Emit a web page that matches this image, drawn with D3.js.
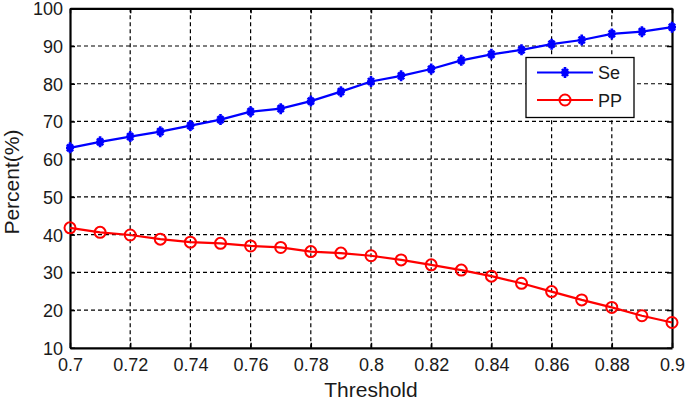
<!DOCTYPE html>
<html>
<head>
<meta charset="utf-8">
<script src="https://cdn.jsdelivr.net/npm/d3@7/dist/d3.min.js"></script>
<style>
  html, body { margin: 0; padding: 0; background: #fff; }
  svg { display: block; font-family: "Liberation Sans", Arial, sans-serif; }
</style>
</head>
<body>
<svg id="chart" width="685" height="401"></svg>
<script>
const thresholds = [0.70,0.71,0.72,0.73,0.74,0.75,0.76,0.77,0.78,0.79,0.80,0.81,0.82,0.83,0.84,0.85,0.86,0.87,0.88,0.89,0.90];
const seValues = [63.0,64.6,66.0,67.3,68.9,70.5,72.6,73.4,75.4,77.9,80.6,82.1,83.9,86.2,87.8,89.0,90.5,91.6,93.2,93.8,95.0];
const ppValues = [41.8,40.6,39.9,38.8,38.0,37.7,37.0,36.6,35.5,35.1,34.4,33.3,32.0,30.6,29.0,27.1,24.9,22.7,20.7,18.5,16.7];
const xTicks = [0.7,0.72,0.74,0.76,0.78,0.8,0.82,0.84,0.86,0.88,0.9];
const yTicks = [10,20,30,40,50,60,70,80,90,100];
const seriesNames = ["Se","PP"];
const seriesColors = ["#0000ff","#ff0000"];

const svg = d3.select("#chart");
const L = 70, R = 672, T = 8.3, B = 347.8;
const x = d3.scaleLinear().domain([0.7,0.9]).range([L,R]);
const y = d3.scaleLinear().domain([10,100]).range([B,T]);

// grid
const grid = svg.append("g");
grid.selectAll("line.gx").data(xTicks.slice(1,-1)).enter().append("line")
  .attr("x1", d=>x(d)).attr("x2", d=>x(d)).attr("y1", T).attr("y2", B)
  .attr("stroke","#000").attr("stroke-width",1.2).attr("stroke-dasharray","4,3");
grid.selectAll("line.gy").data(yTicks.slice(1,-1)).enter().append("line")
  .attr("y1", d=>y(d)).attr("y2", d=>y(d)).attr("x1", L).attr("x2", R)
  .attr("stroke","#000").attr("stroke-width",1.2).attr("stroke-dasharray","4,3");

// axes
const fmtX = d => String(+d.toFixed(2));
const axB = svg.append("g").attr("transform",`translate(0,${B})`)
  .call(d3.axisBottom(x).tickValues(xTicks).tickFormat(fmtX).tickSizeInner(-5).tickSizeOuter(0).tickPadding(10));
const axT = svg.append("g").attr("transform",`translate(0,${T})`)
  .call(d3.axisTop(x).tickValues(xTicks).tickFormat("").tickSizeInner(-5).tickSizeOuter(0));
const axL = svg.append("g").attr("transform",`translate(${L},0)`)
  .call(d3.axisLeft(y).tickValues(yTicks).tickSizeInner(-5).tickSizeOuter(0).tickPadding(7));
const axR = svg.append("g").attr("transform",`translate(${R},0)`)
  .call(d3.axisRight(y).tickValues(yTicks).tickFormat("").tickSizeInner(-5).tickSizeOuter(0));
[axB,axT,axL,axR].forEach(a=>{
  a.select(".domain").attr("stroke","#000").attr("stroke-width",2.2);
  a.selectAll(".tick line").attr("stroke","#000").attr("stroke-width",1.5);
  a.selectAll(".tick text").attr("fill","#1a1a1a").style("font-size","18px");
});
axB.selectAll(".tick text").attr("dy","0.71em");
axL.selectAll(".tick text").attr("dy","0.36em");

// lines
const line = d3.line().x((d,i)=>x(thresholds[i])).y(d=>y(d));
const starPath = "M0,-5.5L0,5.5M-4,0L4,0M-3,-3.5L3,3.5M-3,3.5L3,-3.5";

svg.append("path").datum(seValues).attr("d", line).attr("fill","none")
  .attr("stroke",seriesColors[0]).attr("stroke-width",2.2);
svg.append("g").selectAll("path").data(seValues).enter().append("path")
  .attr("transform",(d,i)=>`translate(${x(thresholds[i])},${y(d)})`)
  .attr("d",starPath).attr("stroke",seriesColors[0]).attr("stroke-width",2.6).attr("fill","none");

svg.append("path").datum(ppValues).attr("d", line).attr("fill","none")
  .attr("stroke",seriesColors[1]).attr("stroke-width",2.2);
svg.append("g").selectAll("circle").data(ppValues).enter().append("circle")
  .attr("cx",(d,i)=>x(thresholds[i])).attr("cy",d=>y(d)).attr("r",5.5)
  .attr("fill","none").attr("stroke",seriesColors[1]).attr("stroke-width",2);

// axis labels
svg.append("text").attr("x",(L+R)/2).attr("y",397).attr("text-anchor","middle")
  .style("font-size","21px").attr("fill","#1a1a1a").text("Threshold");
svg.append("text").attr("transform",`translate(19,${(T+B)/2+4}) rotate(-90)`).attr("text-anchor","middle")
  .style("font-size","21px").attr("fill","#1a1a1a").text("Percent(%)");

// legend
const lg = svg.append("g");
lg.append("rect").attr("x",526).attr("y",57.5).attr("width",108).attr("height",60)
  .attr("fill","#fff").attr("stroke","#000").attr("stroke-width",1.3);
const rows = [72.5, 100];
seriesNames.forEach((nm,i)=>{
  const yy = rows[i];
  lg.append("line").attr("x1",537).attr("x2",593).attr("y1",yy).attr("y2",yy)
    .attr("stroke",seriesColors[i]).attr("stroke-width",2.2);
  if (i===0) {
    lg.append("path").attr("transform",`translate(565,${yy})`).attr("d",starPath)
      .attr("stroke",seriesColors[0]).attr("stroke-width",2.6).attr("fill","none");
  } else {
    lg.append("circle").attr("cx",565).attr("cy",yy).attr("r",5.5)
      .attr("fill","none").attr("stroke",seriesColors[1]).attr("stroke-width",2);
  }
  lg.append("text").attr("x",598).attr("y",yy+6.5).style("font-size","18px").attr("fill","#1a1a1a").text(nm);
});
</script>
</body>
</html>
